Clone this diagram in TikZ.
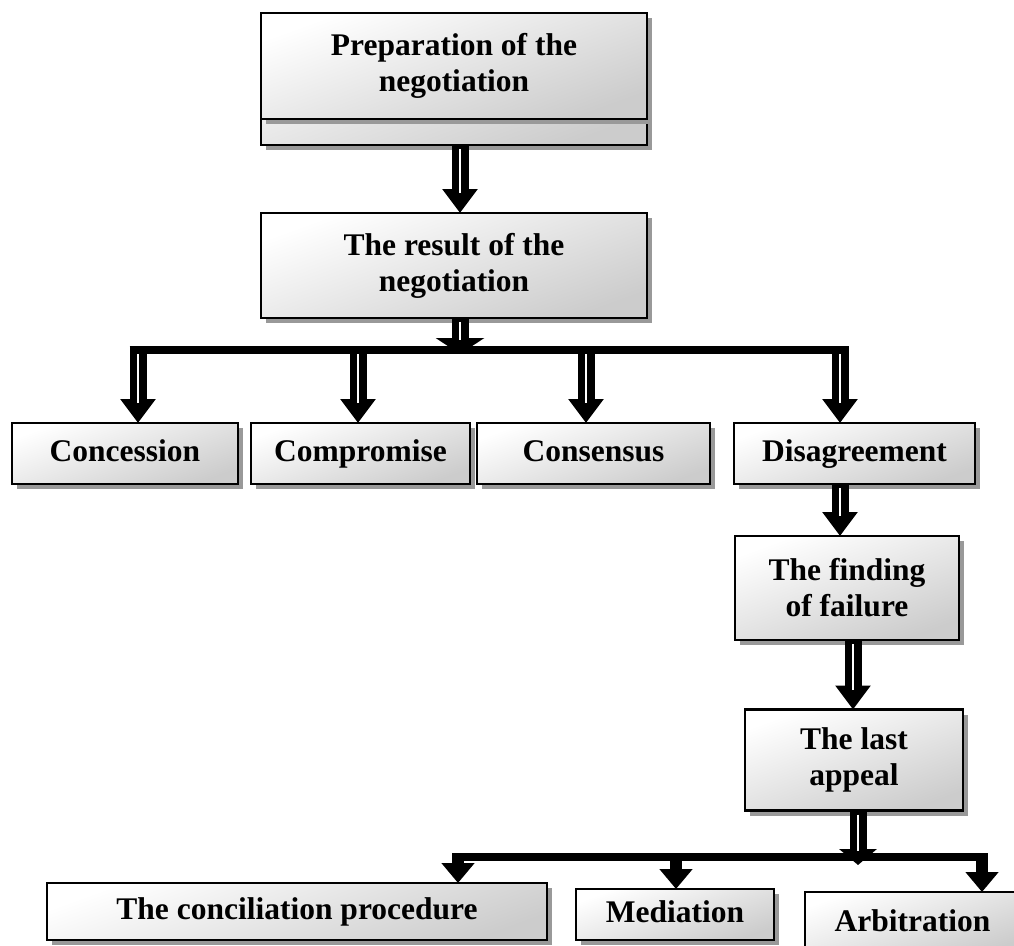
\documentclass[tikz,border=0pt]{standalone}
\usepackage{fontspec}
\setmainfont{Liberation Serif}
\usetikzlibrary{arrows.meta,shadows,calc}
\begin{document}
\begin{tikzpicture}[x=1pt,y=-1pt,
  box/.style={draw=black, line width=2.2pt, inner sep=0pt, outer sep=0pt,
    top color=white, bottom color=black!20, shading angle=20,
    drop shadow={shadow xshift=5pt, shadow yshift=-5pt, fill=black!40, opacity=1},
    align=center, font=\bfseries\fontsize{31.5}{36}\selectfont},
  oneline/.style={text height=22pt, text depth=7pt},
  hollowarrow/.style={draw=black, line width=17pt, -{Triangle[width=34pt,length=24pt]},
    postaction={draw=white, line width=1.5pt, -, shorten >=20pt, shorten <=4pt}},
  stubarrow/.style={draw=black, line width=17pt, -{Triangle[width=#1,length=16pt]},
    postaction={draw=white, line width=1.5pt, -, shorten >=14pt, shorten <=4pt}},
  solidarrow/.style={draw=black, line width=12pt, -{Triangle[width=32pt,length=20pt]}},
  barline/.style={draw=black, line width=8.5pt}
]
\fill[white] (0,0) rectangle (1014,945);
\useasboundingbox (0,0) rectangle (1014,945);

% top boxes
\node[box, minimum width=386pt, minimum height=132pt] (prepB) at (454,79) {};
\node[box, minimum width=386pt, minimum height=106pt] (prep) at (454,66) {Preparation of the\\negotiation};
\node[box, minimum width=386pt, minimum height=105pt] (result) at (454,265.5) {The result of the\\negotiation};

% row
\node[box, oneline, minimum width=226pt, minimum height=61pt] (conc) at (125,453.5) {Concession};
\node[box, oneline, minimum width=219pt, minimum height=61pt] (comp) at (360.5,453.5) {Compromise};
\node[box, oneline, minimum width=233pt, minimum height=61pt] (cons) at (593.5,453.5) {Consensus};
\node[box, oneline, minimum width=241pt, minimum height=61pt] (disa) at (854.5,453.5) {Disagreement};

% right column
\node[box, minimum width=224pt, minimum height=104pt] (find) at (847,588) {The finding\\of failure};
\node[box, minimum width=218pt, minimum height=101pt] (last) at (854,760) {The last\\appeal};

% bottom
\node[box, oneline, minimum width=500pt, minimum height=57pt] (conci) at (297,911.5) {The conciliation procedure};
\node[box, oneline, minimum width=198pt, minimum height=51pt] (medi) at (675,914.5) {Mediation};
\node[box, oneline, minimum width=215pt, minimum height=63pt] (arbi) at (912.5,923.5) {Arbitration};

% connectors top
\draw[hollowarrow] ([xshift=6pt]prepB.south) -- ([xshift=6pt]result.north);
\coordinate (t1) at (460,354);
\draw[stubarrow=48pt] ([xshift=6pt]result.south) -- (t1);
\coordinate (d1) at (138,350);
\coordinate (d2) at (358,350);
\coordinate (d3) at (586,350);
\coordinate (d4) at (840,350);
\draw[hollowarrow] (d1) -- (d1 |- conc.north);
\draw[hollowarrow] (d2) -- (d2 |- comp.north);
\draw[hollowarrow] (d3) -- (d3 |- cons.north);
\draw[hollowarrow] (d4) -- (d4 |- disa.north);
\coordinate (bL) at (129.5,350);
\coordinate (bR) at (848.5,350);
\draw[barline] (bL) -- (bR);

% right column connectors
\draw[hollowarrow] ([xshift=-14.5pt]disa.south) -- ([xshift=-14.5pt]disa.south |- find.north);
\draw[hollowarrow] ([xshift=6pt]find.south) -- ([xshift=6pt]find.south |- last.north);

% bottom connectors
\coordinate (t2) at (858,865);
\draw[stubarrow=37pt] ([xshift=4pt]last.south) -- (t2);
\coordinate (e1) at (458,857);
\coordinate (e2) at (676,857);
\coordinate (e3) at (982,857);
\draw[solidarrow] (e1) -- (e1 |- conci.north);
\draw[solidarrow] (e2) -- (e2 |- medi.north);
\draw[solidarrow] (e3) -- (e3 |- arbi.north);
\coordinate (cL) at (452,857);
\coordinate (cR) at (988,857);
\draw[barline] (cL) -- (cR);
\end{tikzpicture}
\end{document}
